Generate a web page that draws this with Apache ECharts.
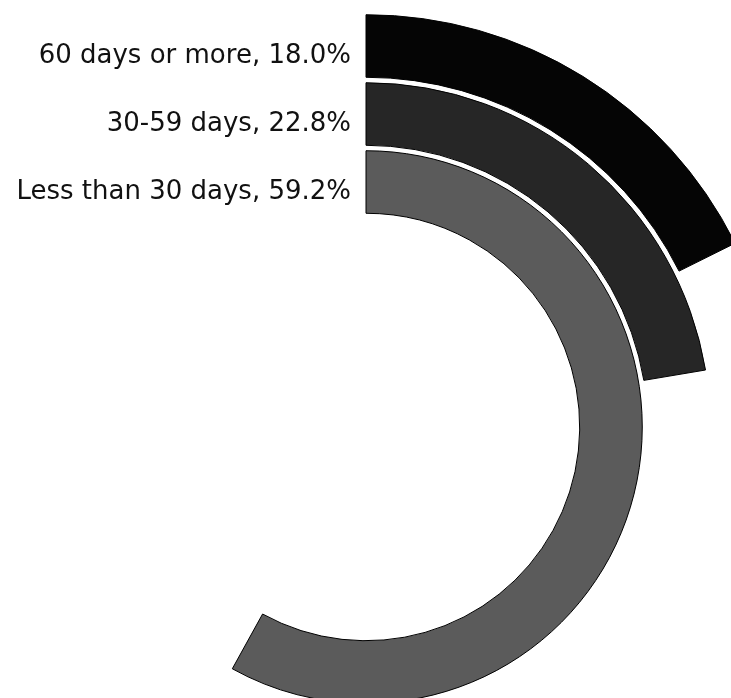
<!DOCTYPE html>
<html>
<head>
<meta charset="utf-8">
<script src="https://cdn.jsdelivr.net/npm/echarts@6/dist/echarts.min.js"></script>
<style>html,body{margin:0;padding:0;background:#fff}#c{width:731px;height:698px}</style>
</head>
<body>
<div id="c"></div>
<script>
var categories = ['Less than 30 days', '30-59 days', '60 days or more'];
var values = [59.2, 22.8, 18.0];
var colors = ['#5b5b5b', '#262626', '#050505'];

var chart = echarts.init(document.getElementById('c'), null, {renderer: 'canvas'});
chart.setOption({
  animation: false,
  backgroundColor: '#ffffff',
  polar: { center: [366, 427], radius: [211, 415] },
  angleAxis: {
    type: 'value', min: 0, max: 102, startAngle: 90, clockwise: true,
    axisLine: {show: false}, axisTick: {show: false}, axisLabel: {show: false}, splitLine: {show: false}
  },
  radiusAxis: {
    type: 'category', data: categories,
    axisLine: {show: false}, axisTick: {show: false}, splitLine: {show: false},
    axisLabel: {
      show: true, interval: 0, hideOverlap: false, margin: 15, fontSize: 26, color: '#111',
      fontFamily: '"DejaVu Sans", sans-serif',
      verticalAlign: 'top', lineHeight: 20,
      formatter: function (v, i) { return v + ', ' + values[i].toFixed(1) + '%'; }
    }
  },
  series: [{
    type: 'bar', coordinateSystem: 'polar',
    data: values.map(function (v, i) { return {value: v, itemStyle: {color: colors[i]}}; }),
    barCategoryGap: '8%',
    itemStyle: {borderColor: '#000', borderWidth: 1}
  }]
});
</script>
</body>
</html>
